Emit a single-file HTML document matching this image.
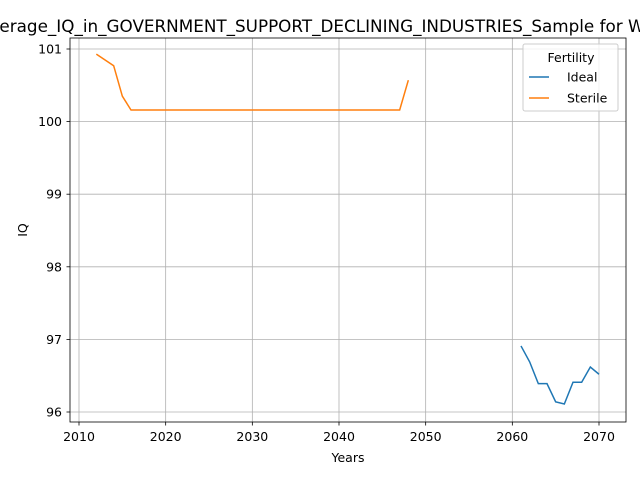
<!DOCTYPE html>
<html><head><meta charset="utf-8"><style>body{margin:0;background:#fff}svg{display:block;font-family:"DejaVu Sans","Liberation Sans",sans-serif}</style></head>
<body>
<svg id="chart" width="640" height="480" viewBox="0 0 640 480">
<text x="331" y="32" font-size="16.8" text-anchor="middle">Average_IQ_in_GOVERNMENT_SUPPORT_DECLINING_INDUSTRIES_Sample for WHITE</text>
<g id="grid"></g>
<g id="series"></g>
<rect x="70" y="38" width="556" height="384" fill="none" stroke="#000" stroke-width="0.8"/>
<g id="axes"></g>
<text x="348" y="462" font-size="12.5" text-anchor="middle">Years</text>
<text x="27" y="230" font-size="12.5" text-anchor="middle" transform="rotate(-90 27 230)">IQ</text>
<g>
<rect x="523" y="44" width="95" height="67" fill="#fff" fill-opacity="0.8" stroke="#ccc" rx="2"/>
<text x="571" y="62" font-size="12.5" text-anchor="middle">Fertility</text>
<line x1="529" y1="77" x2="549" y2="77" stroke="#1f77b4" stroke-width="1.5"/>
<text x="567" y="81.5" font-size="12.5">Ideal</text>
<line x1="529" y1="98" x2="549" y2="98" stroke="#ff7f0e" stroke-width="1.5"/>
<text x="567" y="102.5" font-size="12.5">Sterile</text>
</g>
</svg>
<script>
const xTicks=[2010,2020,2030,2040,2050,2060,2070];
const yTicks=[96,97,98,99,100,101];
const sterileYears=[2012,2014,2015,2016,2017,2018,2019,2020,2021,2022,2023,2024,2025,2026,2027,2028,2029,2030,2031,2032,2033,2034,2035,2036,2037,2038,2039,2040,2041,2042,2043,2044,2045,2046,2047,2048];
const sterileValues=[100.93,100.77,100.35,100.16,100.16,100.16,100.16,100.16,100.16,100.16,100.16,100.16,100.16,100.16,100.16,100.16,100.16,100.16,100.16,100.16,100.16,100.16,100.16,100.16,100.16,100.16,100.16,100.16,100.16,100.16,100.16,100.16,100.16,100.16,100.16,100.57];
const idealYears=[2061,2062,2063,2064,2065,2066,2067,2068,2069,2070];
const idealValues=[96.91,96.69,96.39,96.39,96.14,96.11,96.41,96.41,96.62,96.52];
const NS='http://www.w3.org/2000/svg';
const xs=v=>79+(v-2010)*(520/60);
const ys=v=>49+(101-v)*(363/5);
const grid=document.getElementById('grid'),axes=document.getElementById('axes'),ser=document.getElementById('series');
function mk(t,a,p){const e=document.createElementNS(NS,t);for(const k in a)e.setAttribute(k,a[k]);p.appendChild(e);return e;}
xTicks.forEach(t=>{const x=xs(t);
const g=mk('line',{x1:x,x2:x,y1:38,y2:422,stroke:'#b0b0b0','stroke-width':0.8},grid);


mk('line',{x1:x,x2:x,y1:422,y2:425.5,stroke:'#000','stroke-width':0.8},axes);
const l=mk('text',{x:x,y:441,'font-size':12.5,'text-anchor':'middle'},axes);l.textContent=t;

});
yTicks.forEach(t=>{const y=ys(t);
const g=mk('line',{x1:70,x2:626,y1:y,y2:y,stroke:'#b0b0b0','stroke-width':0.8},grid);


mk('line',{x1:66.5,x2:70,y1:y,y2:y,stroke:'#000','stroke-width':0.8},axes);
const l=mk('text',{x:62,y:y+4.5,'font-size':12.5,'text-anchor':'end'},axes);l.textContent=t;

});
function line(xv,yv,c,n){const p=mk('polyline',{points:xv.map((x,i)=>xs(x)+','+ys(yv[i])).join(' '),fill:'none',stroke:c,'stroke-width':1.5},ser);

}
line(sterileYears,sterileValues,'#ff7f0e','sterile-line');
line(idealYears,idealValues,'#1f77b4','ideal-line');
</script>
</body></html>
